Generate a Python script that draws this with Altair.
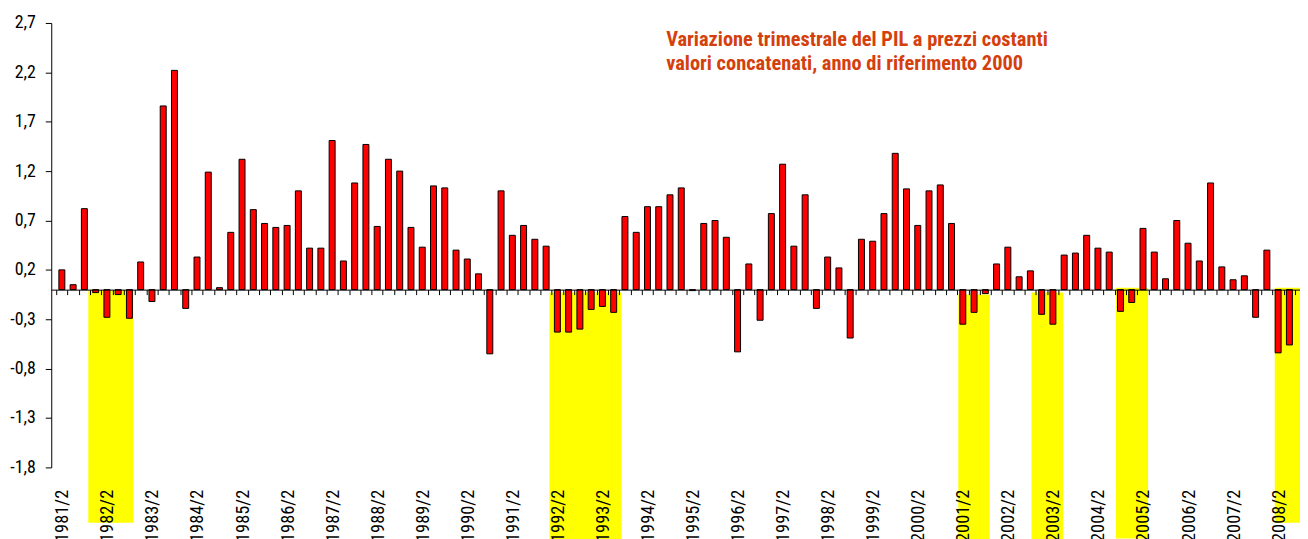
import json
import altair as alt
import pandas as pd

# ---- data -------------------------------------------------------------
years = list(range(1981, 2009))
quarters = [1, 2, 3, 4]
periods = [f"{y}/{q}" for y in years for q in quarters]
periods = periods[periods.index("1981/2"):periods.index("2008/3") + 1]

values = [
    0.20, 0.05, 0.82, -0.03, -0.28, -0.05, -0.29, 0.28, -0.12, 1.86,
    2.22, -0.19, 0.33, 1.19, 0.02, 0.58, 1.32, 0.81, 0.67, 0.63,
    0.65, 1.00, 0.42, 0.42, 1.51, 0.29, 1.08, 1.47, 0.64, 1.32,
    1.20, 0.63, 0.43, 1.05, 1.03, 0.40, 0.31, 0.16, -0.65, 1.00,
    0.55, 0.65, 0.51, 0.44, -0.43, -0.43, -0.40, -0.20, -0.17, -0.23,
    0.74, 0.58, 0.84, 0.84, 0.96, 1.03, -0.01, 0.67, 0.70, 0.53,
    -0.63, 0.26, -0.31, 0.77, 1.27, 0.44, 0.96, -0.19, 0.33, 0.22,
    -0.49, 0.51, 0.49, 0.77, 1.38, 1.02, 0.65, 1.00, 1.06, 0.67,
    -0.35, -0.23, -0.04, 0.26, 0.43, 0.13, 0.19, -0.25, -0.35, 0.35,
    0.37, 0.55, 0.42, 0.38, -0.22, -0.13, 0.62, 0.38, 0.11, 0.70,
    0.47, 0.29, 1.08, 0.23, 0.10, 0.14, -0.28, 0.40, -0.64, -0.56,
]

# highlighted periods (in quarter-index units) and their vertical extent
band_start = [2.35, 43.3, 79.6, 86.1, 93.6, 107.7]
band_end = [6.35, 49.7, 82.4, 88.9, 96.45, 110.5]
band_top = [-0.01, -0.03, -0.05, -0.03, 0.02, 0.02]
band_bottom = [-2.36, -2.8, -2.8, -2.8, -2.52, -2.36]

label_periods = [p for p in periods if p.endswith("/2")]
y_ticks = [2.7, 2.2, 1.7, 1.2, 0.7, 0.2, -0.3, -0.8, -1.3, -1.8]

title_lines = "Variazione trimestrale del PIL a prezzi costanti\nvalori concatenati, anno di riferimento 2000"

# ---- chart ------------------------------------------------------------
W = 1256
H = 447
FONT = "Roboto Condensed, DejaVu Sans Condensed, sans-serif"

df = pd.DataFrame({"idx": list(range(len(periods))), "period": periods, "value": values})
bands = pd.DataFrame({"x0": band_start, "x1": band_end, "y0": band_top, "y1": band_bottom})

xscale = alt.Scale(domain=[-0.5, len(periods) - 0.5], nice=False, zero=False)
yscale = alt.Scale(domain=[-1.8, 2.7], nice=False, zero=False)

label_values = [periods.index(p) for p in label_periods]
label_expr = json.dumps(periods) + "[round(datum.value)]"
y_label_expr = "(datum.value < 0 ? '-' : '') + replace(format(abs(datum.value), '.1f'), '.', ',')"

band_layer = alt.Chart(bands).mark_rect(color="#FFFF00", clip=False).encode(
    x=alt.X("x0:Q", scale=xscale, axis=alt.Axis(
        orient="bottom", values=label_values, labelExpr=label_expr,
        labelAngle=270, labelAlign="right", labelBaseline="middle",
        labelPadding=22, tickSize=0, ticks=False, domain=False, grid=False,
        labelFont=FONT, labelFontSize=18.5, labelColor="#000000", zindex=3,
        labelOverlap=False, labelFlush=False, labelBound=False, title=None)),
    x2="x1:Q",
    y=alt.Y("y0:Q", scale=yscale, axis=alt.Axis(
        values=y_ticks, labelExpr=y_label_expr,
        tickSize=6, tickColor="#000000", domainColor="#000000", grid=False,
        labelPadding=10, labelFont=FONT, labelFontSize=18, labelColor="#000000",
        title=None, labelFlush=False, labelOverlap=False)),
    y2="y1:Q",
)

bar_layer = alt.Chart(df).mark_bar(
    size=6, color="#FF0000", stroke="#000000", strokeWidth=1
).encode(
    x=alt.X("idx:Q", scale=xscale, axis=alt.Axis(
        orient="bottom", values=[i - 0.5 for i in range(len(periods) + 1)],
        labels=False, tickSize=5, tickColor="#000000", domainColor="#000000",
        domainWidth=1, grid=False, offset=-(H * 1.8 / 4.5), zindex=2, title=None)),
    y=alt.Y("value:Q", scale=yscale),
)

title_layer = alt.Chart(df.head(1)).mark_text(
    align="left", baseline="alphabetic", lineBreak="\n", font=FONT,
    fontSize=20.5, fontWeight="bold", color="#D4400C", lineHeight=24
).encode(
    x=alt.value(618.5), y=alt.value(23.5), text=alt.value(title_lines)
)

chart = alt.layer(band_layer, bar_layer, title_layer).resolve_axis(
    x="independent"
).properties(
    width=W, height=H,
    autosize=alt.AutoSizeParams(type="none"),
    padding={"left": 43.5, "top": 13.5, "right": 0, "bottom": 80},
).configure_view(stroke=None)

chart.save("out.html", embed_options={"renderer": "svg", "actions": False})
